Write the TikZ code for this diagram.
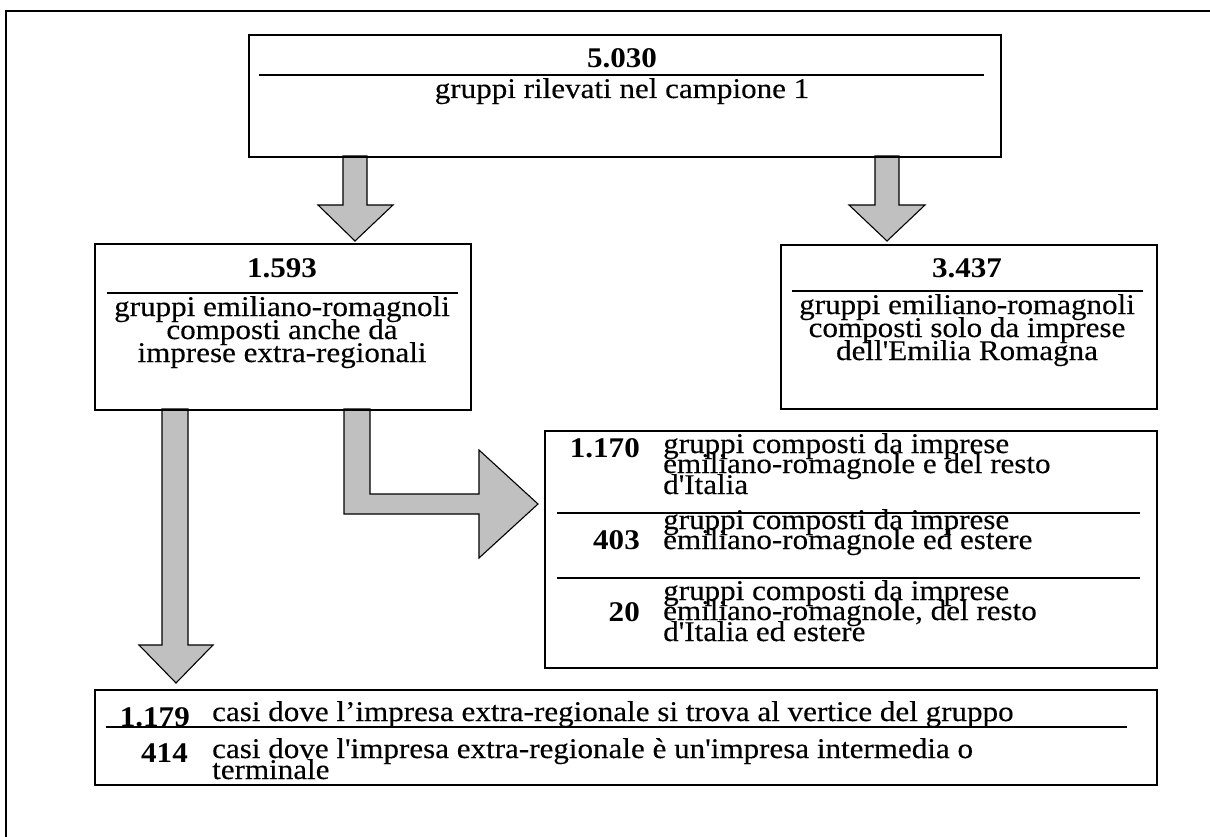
\documentclass[tikz,border=0pt]{standalone}
\usepackage{fontspec}
\setmainfont{Liberation Serif}[FakeStretch=1.09, Ligatures=TeXOff, UprightFeatures={FakeBold=0.3}]
\definecolor{arrgray}{HTML}{C0C0C0}
\tikzset{
  box/.style={draw=black, line width=1.6pt, anchor=north west, inner sep=0pt},
  rulel/.style={line width=1.8pt},
  arr/.style={draw=black, fill=arrgray, line width=1.1pt, line join=miter},
  t/.style={font=\fontsize{28.5}{23}\selectfont, inner sep=0pt},
  num/.style={font=\fontsize{28.5}{23}\selectfont\bfseries, inner sep=0pt}
}
\begin{document}
\begin{tikzpicture}[x=1pt, y=-1pt]
\useasboundingbox (0,0) rectangle (1210,837);
% frame
\draw[line width=2pt] (6,837) -- (6,11) -- (1210,11);

% block arrows
\draw[arr] (343,156) -- (343,205) -- (318,205) -- (355,241) -- (393,205) -- (367,205) -- (367,156) -- cycle;
\draw[arr] (875,156) -- (875,205) -- (849,205) -- (887,241) -- (925,205) -- (899,205) -- (899,156) -- cycle;
\draw[arr] (162,409) -- (162,645) -- (139,645) -- (176,683) -- (213,645) -- (188,645) -- (188,409) -- cycle;
\draw[arr] (344,409) -- (344,514) -- (479,514) -- (479,558) -- (538,504) -- (479,450) -- (479,494) -- (370,494) -- (370,409) -- cycle;

% boxes
\node[box, minimum width=752pt, minimum height=122pt] (top) at (248,34) {};
\node[box, minimum width=376pt, minimum height=166pt] (boxA) at (94,243) {};
\node[box, minimum width=376pt, minimum height=164pt] (boxB) at (780,244) {};
\node[box, minimum width=612pt, minimum height=237pt] (boxC) at (544,430) {};
\node[box, minimum width=1062pt, minimum height=95pt] (boxD) at (94,689) {};

% rules
\draw[rulel] (259,75) -- (984,75);
\draw[rulel] (107,293) -- (458,293);
\draw[rulel] (792,291) -- (1143,291);
\draw[rulel] (557,513) -- (1140,513);
\draw[rulel] (557,578) -- (1140,578);
\draw[rulel] (106,727) -- (1127,727);

% top box
\node[num, anchor=base] (n5030) at (622,68) {5.030};
\node[t, anchor=base] (ttop) at (622,98) {gruppi rilevati nel campione 1};

% box A
\node[num, anchor=base] (n1593) at (282,277) {1.593};
\node[t, anchor=base] (a1) at (282,316) {gruppi emiliano-romagnoli};
\node[t, anchor=base] (a2) at (282,339) {composti anche da};
\node[t, anchor=base] (a3) at (282,362) {imprese extra-regionali};

% box B
\node[num, anchor=base] (n3437) at (967,277) {3.437};
\node[t, anchor=base] (b1) at (967,314) {gruppi emiliano-romagnoli};
\node[t, anchor=base] (b2) at (967,337) {composti solo da imprese};
\node[t, anchor=base] (b3) at (967,360) {dell'Emilia Romagna};

% box C
\node[num, anchor=base east] (n1170) at (640,457) {1.170};
\node[t, anchor=base west] (c11) at (663,453) {gruppi composti da imprese};
\node[t, anchor=base west] (c12) at (663,473) {emiliano-romagnole e del resto};
\node[t, anchor=base west] (c13) at (663,494) {d'Italia};
\node[num, anchor=base east] (n403) at (640,549) {403};
\node[t, anchor=base west] (c21) at (663,529) {gruppi composti da imprese};
\node[t, anchor=base west] (c22) at (663,549) {emiliano-romagnole ed estere};
\node[num, anchor=base east] (n20) at (640,621) {20};
\node[t, anchor=base west] (c31) at (663,600) {gruppi composti da imprese};
\node[t, anchor=base west] (c32) at (663,620) {emiliano-romagnole, del resto};
\node[t, anchor=base west] (c33) at (663,641) {d'Italia ed estere};

% box D
\node[num, anchor=base east] (n1179) at (190,726) {1.179};
\node[t, anchor=base west] (d1) at (212,721) {casi dove l’impresa extra-regionale si trova al vertice del gruppo};
\node[num, anchor=base east] (n414) at (188,762) {414};
\node[t, anchor=base west] (d2) at (212,758) {casi dove l'impresa extra-regionale è un'impresa intermedia o};
\node[t, anchor=base west] (d3) at (212,779) {terminale};
\end{tikzpicture}
\end{document}
